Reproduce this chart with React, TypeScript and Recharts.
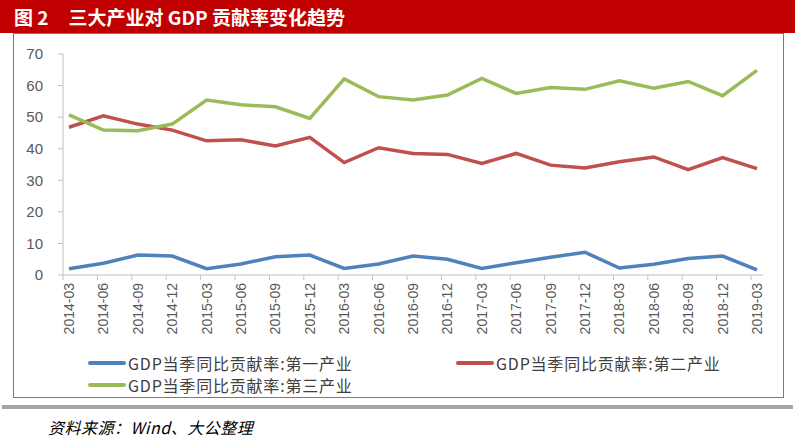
import { CartesianGrid, Line, LineChart, XAxis, YAxis } from "recharts";

const periods = [
  "2014-03", "2014-06", "2014-09", "2014-12",
  "2015-03", "2015-06", "2015-09", "2015-12",
  "2016-03", "2016-06", "2016-09", "2016-12",
  "2017-03", "2017-06", "2017-09", "2017-12",
  "2018-03", "2018-06", "2018-09", "2018-12",
  "2019-03",
];

// GDP当季同比贡献率 (%)
const primary = [2.0, 3.7, 6.3, 6.0, 2.0, 3.5, 5.8, 6.3, 2.1, 3.5, 6.0, 5.0, 2.1, 3.9, 5.6, 7.2, 2.2, 3.4, 5.2, 6.0, 1.6];
const secondary = [46.8, 50.4, 47.8, 45.9, 42.5, 42.8, 40.9, 43.6, 35.6, 40.3, 38.5, 38.2, 35.3, 38.5, 34.8, 33.9, 35.9, 37.4, 33.4, 37.2, 33.7];
const tertiary = [50.7, 45.9, 45.7, 47.8, 55.4, 53.9, 53.3, 49.6, 62.1, 56.5, 55.4, 57.0, 62.3, 57.5, 59.4, 58.8, 61.5, 59.2, 61.3, 56.8, 64.8];

const yTicks = [0, 10, 20, 30, 40, 50, 60, 70];

const series = [
  { key: "primary", name: "GDP当季同比贡献率:第一产业", color: "#4F81BD" },
  { key: "secondary", name: "GDP当季同比贡献率:第二产业", color: "#C0504D" },
  { key: "tertiary", name: "GDP当季同比贡献率:第三产业", color: "#9BBB59" },
];

const data = periods.map((period, i) => ({
  period,
  primary: primary[i],
  secondary: secondary[i],
  tertiary: tertiary[i],
}));

const axisGray = "#BFBFBF";
const labelGray = "#595959";

// rotated label + tick mark sitting between categories, like Excel
function PeriodTick({ x, y, payload }: any) {
  return (
    <g>
      <line x1={x - 6} x2={x - 6} y1={y - 8} y2={y - 3} stroke={axisGray} />
      <text
        x={x}
        y={y}
        transform={`rotate(-90, ${x}, ${y})`}
        textAnchor="end"
        dominantBaseline="central"
        fontSize={14}
        fill={labelGray}
        fontFamily="Liberation Sans, Arial, sans-serif"
      >
        {payload.value}
      </text>
    </g>
  );
}

function LegendItem({ name, color }: { name: string; color: string }) {
  return (
    <div style={{ display: "flex", alignItems: "center" }}>
      <div style={{ width: 38, height: 4, background: color, borderRadius: 2 }} />
      <span style={{ marginLeft: 2, fontSize: 16, letterSpacing: 0.8, color: "#404040", whiteSpace: "nowrap" }}>
        {name}
      </span>
    </div>
  );
}

export default function App() {
  return (
    <div
      style={{
        position: "absolute",
        left: 0,
        top: 0,
        width: 795,
        height: 438,
        background: "#fff",
        overflow: "hidden",
        fontFamily: "'Noto Sans CJK SC', 'Noto Sans', sans-serif",
      }}
    >
      {/* chart frame */}
      <div
        style={{
          position: "absolute",
          left: 13,
          top: 33,
          width: 771,
          height: 365,
          border: "1px solid #5B7FAE",
          boxSizing: "border-box",
        }}
      />

      <div style={{ position: "absolute", left: 0, top: 0 }}>
        <LineChart width={795} height={438} data={data} margin={{ top: 54, right: 32, left: 13, bottom: 93 }}>
          <CartesianGrid vertical={false} horizontal={false} />
          <XAxis
            dataKey="period"
            interval={0}
            padding={{ left: 6, right: 6 }}
            height={70}
            tickSize={5}
            tickMargin={3}
            tickLine={false}
            axisLine={{ stroke: axisGray }}
            tick={<PeriodTick />}
          />
          <YAxis
            domain={[0, 70]}
            ticks={yTicks}
            width={50}
            tickSize={5}
            tickMargin={15}
            axisLine={{ stroke: axisGray }}
            tickLine={{ stroke: axisGray }}
            tick={{ fontSize: 15, fill: labelGray, fontFamily: "Liberation Sans, Arial, sans-serif" }}
          />
          {series.map((s) => (
            <Line
              key={s.key}
              type="linear"
              dataKey={s.key}
              name={s.name}
              stroke={s.color}
              strokeWidth={3.5}
              dot={false}
              isAnimationActive={false}
            />
          ))}
        </LineChart>
      </div>

      {/* legend */}
      <div style={{ position: "absolute", left: 88, top: 351 }}>
        <LegendItem name={series[0].name} color={series[0].color} />
      </div>
      <div style={{ position: "absolute", left: 456, top: 351 }}>
        <LegendItem name={series[1].name} color={series[1].color} />
      </div>
      <div style={{ position: "absolute", left: 88, top: 373 }}>
        <LegendItem name={series[2].name} color={series[2].color} />
      </div>

      {/* title bar */}
      <div
        style={{
          position: "absolute",
          left: 0,
          top: 0,
          width: 795,
          height: 33,
          background: "#C00000",
          color: "#fff",
          fontWeight: 700,
          fontSize: 19,
          lineHeight: "33px",
          paddingLeft: 14,
          boxSizing: "border-box",
          whiteSpace: "nowrap",
        }}
      >
        图 2<span style={{ marginLeft: 20 }}>三大产业对 GDP 贡献率变化趋势</span>
      </div>

      {/* separator + source */}
      <div style={{ position: "absolute", left: 2, top: 405, width: 791, height: 4, background: "#A6A6A6" }} />
      <div
        style={{
          position: "absolute",
          left: 48,
          top: 415,
          fontSize: 16,
          letterSpacing: 0.5,
          fontStyle: "italic",
          color: "#000",
          whiteSpace: "nowrap",
        }}
      >
        资料来源：Wind、大公整理
      </div>
    </div>
  );
}
